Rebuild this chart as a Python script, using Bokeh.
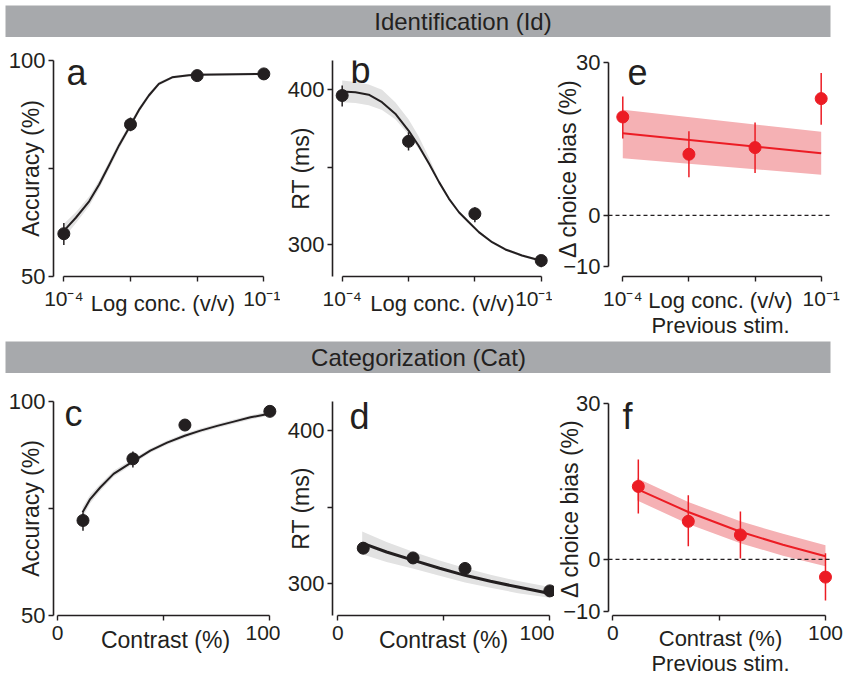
from bokeh.plotting import figure
from bokeh.layouts import column, row
from bokeh.models import FixedTicker, Label, Span
from bokeh.core.properties import value
from bokeh.embed import file_html
from bokeh.resources import INLINE

FONT = "Liberation Sans"
INK = "#231f20"
RED = "#ec1c24"
PINK = "#f5b1b4"
GREY_BAND = "#e2e2e2"
BANNER = "#a7a9ac"

# ---------------- data ----------------
banner_texts = ["Identification (Id)", "Categorization (Cat)"]

# Identification task (x = log10 concentration, v/v)
id_logc = [-4, -3, -2, -1]
id_acc = [59.9, 85.2, 96.5, 96.9]
id_acc_lo = [57.3, 83.6, 96.1, 96.5]
id_acc_hi = [62.4, 86.8, 96.9, 97.3]
id_acc_fit_x = [-4.0, -3.82, -3.62, -3.47, -3.32, -3.17, -3.0, -2.875, -2.725, -2.575,
                -2.375, -2.125, -2.0, -1.0]
id_acc_fit = [60.55, 63.6, 67.4, 71.3, 75.8, 80.4, 85.0, 88.5, 91.9, 94.6,
              96.1, 96.6, 96.7, 96.9]
id_acc_band_lo = [58.9, 62.3, 66.3, 70.3, 74.9, 79.6, 84.3, 87.9, 91.4, 94.2,
                  95.8, 96.3, 96.4, 96.6]
id_acc_band_hi = [62.2, 64.9, 68.5, 72.3, 76.7, 81.2, 85.7, 89.1, 92.4, 95.0,
                  96.4, 96.9, 97.0, 97.2]

id_rt = [396.3, 366.6, 319.7, 289.4]
id_rt_lo = [389.2, 360.7, 314.2, 285.0]
id_rt_hi = [402.8, 372.5, 324.0, 292.7]
id_rt_fit_x = [-4.0, -3.8, -3.6, -3.4, -3.2, -3.0, -2.85, -2.69, -2.54, -2.39, -2.24,
               -2.09, -1.94, -1.74, -1.54, -1.29, -1.0]
id_rt_fit = [398.9, 398.4, 396.8, 392.0, 384.5, 373.6, 363.9, 352.1, 340.2, 329.4, 320.7,
             314.2, 307.8, 301.3, 296.6, 292.7, 289.3]
id_rt_band_lo = [392.0, 391.5, 390.0, 387.0, 381.0, 371.0, 362.0, 351.0, 339.4, 328.6, 319.9,
                 313.4, 307.0, 300.5, 295.8, 291.9, 288.5]
id_rt_band_hi = [406.0, 405.0, 403.5, 400.0, 392.0, 381.0, 370.0, 356.0, 341.5, 330.2, 321.5,
                 315.0, 308.6, 302.1, 297.4, 293.5, 290.1]

id_bias = [19.3, 12.0, 13.3, 22.9]
id_bias_lo = [15.1, 7.5, 8.3, 17.8]
id_bias_hi = [23.3, 16.5, 18.2, 27.9]
id_bias_fit_x = [-4.0, -1.0]
id_bias_fit = [16.1, 12.2]
id_bias_band_lo = [11.2, 8.0]
id_bias_band_hi = [20.7, 16.4]

# Categorization task (x = contrast, %)
cat_contrast = [12, 35.5, 60, 100]
cat_acc = [72.2, 86.6, 94.5, 97.7]
cat_acc_lo = [69.8, 84.6, 94.0, 97.3]
cat_acc_hi = [74.1, 88.3, 95.0, 98.1]
cat_acc_fit_x = [11.8, 15.4, 20.1, 26.4, 35.6, 43.7, 51.6, 59.9, 67.3, 75.2, 83.0, 90.9, 100.3]
cat_acc_fit = [74.1, 77.2, 79.9, 83.1, 86.0, 88.5, 90.4, 92.0, 93.2, 94.3, 95.3, 96.3, 97.2]
cat_acc_band_lo = [72.9, 76.2, 79.1, 82.4, 85.4, 88.0, 89.9, 91.5, 92.7, 93.8, 94.8, 95.8, 96.7]
cat_acc_band_hi = [75.3, 78.2, 80.7, 83.8, 86.6, 89.0, 90.9, 92.5, 93.7, 94.8, 95.8, 96.8, 97.7]

cat_rt = [323.0, 316.6, 309.7, 295.0]
cat_rt_lo = [319.5, 314.8, 308.0, 293.5]
cat_rt_hi = [326.5, 318.4, 311.4, 296.5]
cat_rt_fit_x = [11.5, 23, 35.8, 48, 60, 72, 85, 100]
cat_rt_fit = [326.3, 320.5, 315.0, 309.8, 305.2, 301.3, 297.5, 293.3]
cat_rt_band_lo = [319.0, 314.0, 309.5, 305.0, 300.5, 297.0, 293.5, 290.5]
cat_rt_band_hi = [334.0, 327.0, 320.5, 315.0, 310.0, 305.5, 301.5, 297.5]

cat_bias = [14.0, 7.3, 4.7, -3.4]
cat_bias_lo = [8.8, 2.5, 0.15, -7.9]
cat_bias_hi = [19.2, 12.3, 9.2, 1.2]
cat_bias_fit_x = [11.5, 35.5, 60, 80, 100]
cat_bias_fit = [13.5, 9.1, 5.3, 2.8, 0.6]
cat_bias_band_lo = [11.3, 6.8, 3.1, 0.7, -1.3]
cat_bias_band_hi = [15.6, 11.0, 7.3, 4.9, 2.7]

log_ticks = [-4, -3, -2, -1]
log_labels = {-4: "10\u207b\u2074", -3: "", -2: "", -1: "10\u207b\u00b9"}
contrast_ticks = [0, 50, 100]
contrast_labels = {0: "0", 50: "", 100: "100"}
acc_ticks = [50, 75, 100]
acc_labels = {50: "50", 75: "", 100: "100"}
rt_ticks = [300, 350, 400]
rt_labels = {300: "300", 350: "", 400: "400"}
bias_ticks = [-10, 0, 30]
bias_labels = {-10: "\u221210", 0: "0", 30: "30"}


# ---------------- helpers ----------------
def to_data(P, X, Y):
    x0, x1 = P["xr"]
    y0, y1 = P["yr"]
    x = x0 + (X - P["fl"]) / (P["fr"] - P["fl"]) * (x1 - x0)
    y = y1 - (Y - P["ft"]) / (P["fb"] - P["ft"]) * (y1 - y0)
    return x, y


def make_panel(P, xlabel, ylabel, xstand, ystand, xlh=1.2, xsize="23px"):
    p = figure(width=P["w"], height=P["h"], x_range=P["xr"], y_range=P["yr"],
               output_backend="svg", toolbar_location=None, title=None,
               min_border_left=P["fl"] - P["x"], min_border_right=P["x"] + P["w"] - P["fr"],
               min_border_top=P["ft"] - P["y"], min_border_bottom=P["y"] + P["h"] - P["fb"])
    p.grid.visible = False
    p.outline_line_color = None
    p.background_fill_color = "white"
    p.border_fill_color = "white"
    for ax in p.axis:
        ax.axis_line_color = INK
        ax.axis_line_width = 1.6
        ax.major_tick_line_color = INK
        ax.major_tick_line_width = 1.4
        ax.major_tick_out = 5
        ax.major_tick_in = 0
        ax.minor_tick_line_color = None
        ax.major_label_text_font = FONT
        ax.major_label_text_color = INK
        ax.axis_label_text_font = FONT
        ax.axis_label_text_font_style = "normal"
        ax.axis_label_text_color = INK
    p.xaxis.major_label_text_font_size = "21px"
    p.yaxis.major_label_text_font_size = "22px"
    p.xaxis.axis_label_text_font_size = xsize
    p.yaxis.axis_label_text_font_size = "23px"
    p.xaxis.major_label_standoff = 5
    p.yaxis.major_label_standoff = 3
    p.xaxis.axis_label = xlabel
    p.yaxis.axis_label = ylabel
    p.xaxis.axis_label_standoff = xstand
    p.yaxis.axis_label_standoff = ystand
    p.xaxis.axis_label_text_line_height = xlh
    return p


def letter(p, P, X, Y, text):
    x, y = to_data(P, X, Y)
    p.add_layout(Label(x=x, y=y, text=text, text_align="left", text_baseline="alphabetic",
                       text_font=FONT, text_font_size="36px", text_color=INK))


def draw_series(p, x, y, lo, hi, fx, fy, blo, bhi, color, band, lw):
    p.varea(x=fx, y1=blo, y2=bhi, fill_color=band, fill_alpha=1.0)
    p.line(fx, fy, line_color=color, line_width=lw, line_join="round")
    p.segment(x0=x, y0=lo, x1=x, y1=hi, line_color=color, line_width=1.5)
    p.scatter(x, y, size=12, fill_color=color, line_color=color)


def banner(text, xc, h, top):
    b = figure(width=845, height=h, x_range=(0, 1), y_range=(0, 1), output_backend="svg",
               toolbar_location=None, title=None, x_axis_type=None, y_axis_type=None,
               min_border_left=5, min_border_right=15, min_border_top=top, min_border_bottom=0)
    b.grid.visible = False
    b.outline_line_color = None
    b.background_fill_color = BANNER
    b.border_fill_color = "white"
    b.text(x=[xc], y=[0.5], text=[text], text_font=value(FONT), text_font_size="24px",
           text_align="center", text_baseline="middle", text_color=INK)
    return b


# ---------------- panel geometry (absolute px) ----------------
PA = dict(x=0, y=37, w=280, h=304, fl=53, fr=272, ft=58, fb=276, xr=(-4.155, -0.870), yr=(50, 100))
PB = dict(x=280, y=37, w=272, h=304, fl=332, fr=552, ft=60, fb=276, xr=(-4.146, -0.830), yr=(279.08, 418.98))
PE = dict(x=552, y=37, w=293, h=304, fl=608, fr=832, ft=58, fb=276, xr=(-4.216, -0.829), yr=(-11.96, 30.37))
PC = dict(x=0, y=373, w=280, h=305, fl=53, fr=277, ft=401, fb=615, xr=(-1.89, 103.6), yr=(50, 100))
PD = dict(x=280, y=373, w=274, h=305, fl=332, fr=554, ft=398, fb=615, xr=(-2.5, 102.2), yr=(278.85, 419.2))
PF = dict(x=554, y=373, w=291, h=305, fl=608, fr=832, ft=398, fb=615, xr=(-2.02, 103.3), yr=(-10.77, 30.31))

LOG_LABEL = "Log conc. (v/v)"
CON_LABEL = "Contrast (%)"
PREV = "Previous stim."

# ---- a ----
pa = make_panel(PA, LOG_LABEL, "Accuracy (%)", -22, -38, xsize="22px")
pa.xaxis.ticker = FixedTicker(ticks=log_ticks)
pa.xaxis.major_label_overrides = log_labels
pa.xaxis.bounds = (-4, -1)
pa.yaxis.ticker = FixedTicker(ticks=acc_ticks)
pa.yaxis.major_label_overrides = acc_labels
draw_series(pa, id_logc, id_acc, id_acc_lo, id_acc_hi, id_acc_fit_x, id_acc_fit,
            id_acc_band_lo, id_acc_band_hi, INK, GREY_BAND, 2)
letter(pa, PA, 66, 70, "a")

# ---- b ----
pb = make_panel(PB, LOG_LABEL, "RT (ms)", -22, -29, xsize="22px")
pb.xaxis.ticker = FixedTicker(ticks=log_ticks)
pb.xaxis.major_label_overrides = log_labels
pb.xaxis.bounds = (-4, -1)
pb.yaxis.ticker = FixedTicker(ticks=rt_ticks)
pb.yaxis.major_label_overrides = rt_labels
draw_series(pb, id_logc, id_rt, id_rt_lo, id_rt_hi, id_rt_fit_x, id_rt_fit,
            id_rt_band_lo, id_rt_band_hi, INK, GREY_BAND, 2)
letter(pb, PB, 350, 70, "b")

# ---- e ----
pe = make_panel(PE, LOG_LABEL + "\n" + PREV, "\u0394 choice bias (%)", -25, -21, xlh=1.0, xsize="22px")
pe.xaxis.ticker = FixedTicker(ticks=log_ticks)
pe.xaxis.major_label_overrides = log_labels
pe.xaxis.bounds = (-4, -1)
pe.yaxis.ticker = FixedTicker(ticks=bias_ticks)
pe.yaxis.major_label_overrides = bias_labels
pe.yaxis.bounds = (-10, 30)
pe.add_layout(Span(location=0, dimension="width", line_color=INK, line_width=1.3, line_dash="4 3"))
draw_series(pe, id_logc, id_bias, id_bias_lo, id_bias_hi, id_bias_fit_x, id_bias_fit,
            id_bias_band_lo, id_bias_band_hi, RED, PINK, 2)
letter(pe, PE, 627, 70, "e")

# ---- c ----
pc = make_panel(PC, CON_LABEL, "Accuracy (%)", -16, -38)
pc.xaxis.ticker = FixedTicker(ticks=contrast_ticks)
pc.xaxis.major_label_overrides = contrast_labels
pc.xaxis.bounds = (0, 100)
pc.yaxis.ticker = FixedTicker(ticks=acc_ticks)
pc.yaxis.major_label_overrides = acc_labels
draw_series(pc, cat_contrast, cat_acc, cat_acc_lo, cat_acc_hi, cat_acc_fit_x, cat_acc_fit,
            cat_acc_band_lo, cat_acc_band_hi, INK, GREY_BAND, 2)
letter(pc, PC, 64, 413, "c")

# ---- d ----
pd_ = make_panel(PD, CON_LABEL, "RT (ms)", -16, -29)
pd_.xaxis.ticker = FixedTicker(ticks=contrast_ticks)
pd_.xaxis.major_label_overrides = contrast_labels
pd_.xaxis.bounds = (0, 100)
pd_.yaxis.ticker = FixedTicker(ticks=rt_ticks)
pd_.yaxis.major_label_overrides = rt_labels
draw_series(pd_, cat_contrast, cat_rt, cat_rt_lo, cat_rt_hi, cat_rt_fit_x, cat_rt_fit,
            cat_rt_band_lo, cat_rt_band_hi, INK, GREY_BAND, 3)
letter(pd_, PD, 349, 413, "d")

# ---- f ----
pf = make_panel(PF, CON_LABEL + "\n" + PREV, "\u0394 choice bias (%)", -17, -23, xlh=1.0, xsize="22px")
pf.xaxis.ticker = FixedTicker(ticks=contrast_ticks)
pf.xaxis.major_label_overrides = contrast_labels
pf.xaxis.bounds = (0, 100)
pf.yaxis.ticker = FixedTicker(ticks=bias_ticks)
pf.yaxis.major_label_overrides = bias_labels
pf.yaxis.bounds = (-10, 30)
pf.add_layout(Span(location=0, dimension="width", line_color=INK, line_width=1.3, line_dash="4 3"))
draw_series(pf, cat_contrast, cat_bias, cat_bias_lo, cat_bias_hi, cat_bias_fit_x, cat_bias_fit,
            cat_bias_band_lo, cat_bias_band_hi, RED, PINK, 2)
letter(pf, PF, 622, 413, "f")

b1 = banner(banner_texts[0], 0.5545, 37, 5)
b2 = banner(banner_texts[1], 0.5006, 32, 0)

layout = column(b1, row(pa, pb, pe), b2, row(pc, pd_, pf))

open("out.html", "w").write(file_html(layout, INLINE))
